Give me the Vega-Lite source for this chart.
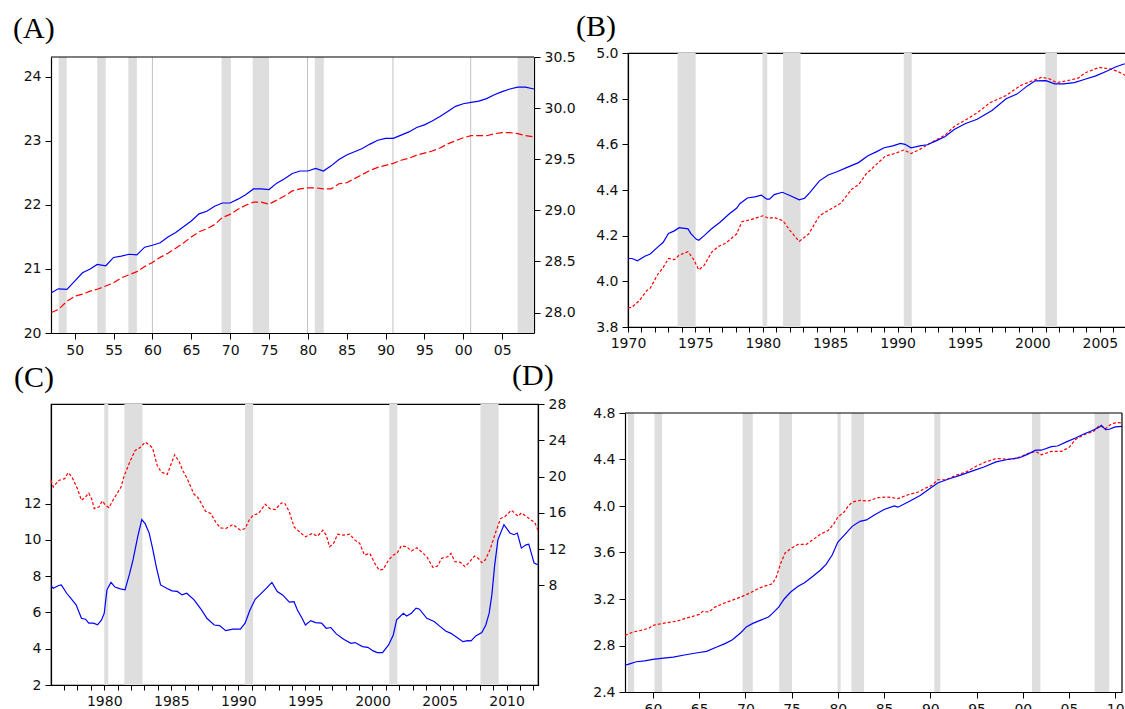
{
"$schema": "https://vega.github.io/schema/vega-lite/v6.json",
"background": "white",
"padding": {"left": 13, "top": 11, "right": 0, "bottom": 0},
"config": {
  "view": {"stroke": "black", "strokeWidth": 1.2},
  "axis": {"labelFont": "DejaVu Sans", "labelFontSize": 14, "labelColor": "#111111", "domainColor": "black", "tickColor": "black", "tickSize": 6, "domainWidth": 1.2, "tickWidth": 1, "grid": false, "title": null, "labelPadding": 4, "labelFlush": false, "labelOverlap": false, "labelBound": false},
  "title": {"font": "Liberation Serif", "fontSize": 30, "fontWeight": "normal", "color": "black", "anchor": "start", "frame": "group"}
},
"datasets": {
  "frame": [{"k": 1}],
  "Abands": [{"t":1947.94,"t2":1948.97},{"t":1952.9,"t2":1954.0},{"t":1956.9,"t2":1958.0},{"t":1968.9,"t2":1970.1},{"t":1972.9,"t2":1975.0},{"t":1980.9,"t2":1982.05},{"t":2007.0,"t2":2009.1}],
  "Alines": [{"t":1960.0},{"t":1979.95},{"t":1990.95},{"t":2000.95}],
  "A1": [{"t":1947,"v":20.63},{"t":1947.9,"v":20.69},{"t":1949,"v":20.68},{"t":1950,"v":20.81},{"t":1951,"v":20.94},{"t":1952,"v":21.0},{"t":1952.9,"v":21.07},{"t":1954,"v":21.05},{"t":1955,"v":21.18},{"t":1956,"v":21.2},{"t":1957,"v":21.23},{"t":1958,"v":21.22},{"t":1959,"v":21.34},{"t":1960,"v":21.37},{"t":1961,"v":21.41},{"t":1962,"v":21.5},{"t":1963,"v":21.57},{"t":1964,"v":21.66},{"t":1965,"v":21.75},{"t":1966,"v":21.86},{"t":1967,"v":21.9},{"t":1968,"v":21.98},{"t":1969,"v":22.03},{"t":1970,"v":22.03},{"t":1971,"v":22.09},{"t":1972,"v":22.16},{"t":1973,"v":22.25},{"t":1974,"v":22.25},{"t":1975,"v":22.24},{"t":1976,"v":22.34},{"t":1977,"v":22.41},{"t":1978,"v":22.49},{"t":1979,"v":22.53},{"t":1980,"v":22.53},{"t":1981,"v":22.57},{"t":1982,"v":22.53},{"t":1983,"v":22.61},{"t":1984,"v":22.71},{"t":1985,"v":22.78},{"t":1986,"v":22.83},{"t":1987,"v":22.88},{"t":1988,"v":22.95},{"t":1989,"v":23.01},{"t":1990,"v":23.04},{"t":1991,"v":23.04},{"t":1992,"v":23.09},{"t":1993,"v":23.14},{"t":1994,"v":23.21},{"t":1995,"v":23.25},{"t":1996,"v":23.31},{"t":1997,"v":23.38},{"t":1998,"v":23.46},{"t":1999,"v":23.54},{"t":2000,"v":23.58},{"t":2001,"v":23.6},{"t":2002,"v":23.62},{"t":2003,"v":23.66},{"t":2004,"v":23.72},{"t":2005,"v":23.77},{"t":2006,"v":23.81},{"t":2007,"v":23.84},{"t":2008,"v":23.84},{"t":2009.1,"v":23.81}],
  "A2": [{"t":1947,"v":28.0},{"t":1947.9,"v":28.03},{"t":1949,"v":28.11},{"t":1950,"v":28.16},{"t":1951,"v":28.18},{"t":1952,"v":28.21},{"t":1953,"v":28.23},{"t":1954,"v":28.26},{"t":1955,"v":28.29},{"t":1956,"v":28.34},{"t":1957,"v":28.37},{"t":1958,"v":28.4},{"t":1959,"v":28.45},{"t":1960,"v":28.49},{"t":1961,"v":28.54},{"t":1962,"v":28.58},{"t":1963,"v":28.63},{"t":1964,"v":28.68},{"t":1965,"v":28.74},{"t":1966,"v":28.79},{"t":1967,"v":28.82},{"t":1968,"v":28.86},{"t":1969,"v":28.93},{"t":1970,"v":28.96},{"t":1971,"v":29.01},{"t":1972,"v":29.05},{"t":1973,"v":29.08},{"t":1974,"v":29.08},{"t":1975,"v":29.06},{"t":1976,"v":29.1},{"t":1977,"v":29.14},{"t":1978,"v":29.19},{"t":1979,"v":29.21},{"t":1980,"v":29.22},{"t":1981,"v":29.22},{"t":1982,"v":29.21},{"t":1983,"v":29.21},{"t":1984,"v":29.26},{"t":1985,"v":29.27},{"t":1986,"v":29.31},{"t":1987,"v":29.35},{"t":1988,"v":29.39},{"t":1989,"v":29.42},{"t":1990,"v":29.44},{"t":1991,"v":29.46},{"t":1992,"v":29.49},{"t":1993,"v":29.51},{"t":1994,"v":29.54},{"t":1995,"v":29.56},{"t":1996,"v":29.58},{"t":1997,"v":29.61},{"t":1998,"v":29.65},{"t":1999,"v":29.68},{"t":2000,"v":29.71},{"t":2001,"v":29.73},{"t":2002,"v":29.73},{"t":2003,"v":29.73},{"t":2004,"v":29.75},{"t":2005,"v":29.76},{"t":2006,"v":29.76},{"t":2007,"v":29.75},{"t":2008,"v":29.73},{"t":2009.1,"v":29.72}],
  "Bbands": [{"t":1973.68,"t2":1975.02},{"t":1979.98,"t2":1980.33},{"t":1981.5,"t2":1982.8},{"t":1990.46,"t2":1991.05},{"t":2000.96,"t2":2001.82}],
  "B1": [{"t":1970,"v":4.1},{"t":1970.3,"v":4.1},{"t":1970.7,"v":4.09},{"t":1971.25,"v":4.11},{"t":1971.65,"v":4.12},{"t":1972.2,"v":4.15},{"t":1972.6,"v":4.17},{"t":1973.0,"v":4.21},{"t":1973.4,"v":4.22},{"t":1973.8,"v":4.235},{"t":1974.45,"v":4.23},{"t":1974.65,"v":4.21},{"t":1975.05,"v":4.185},{"t":1975.25,"v":4.18},{"t":1975.65,"v":4.2},{"t":1976.2,"v":4.23},{"t":1976.85,"v":4.26},{"t":1977.5,"v":4.295},{"t":1978.05,"v":4.32},{"t":1978.3,"v":4.34},{"t":1978.85,"v":4.365},{"t":1979.4,"v":4.37},{"t":1979.9,"v":4.377},{"t":1980.3,"v":4.36},{"t":1980.5,"v":4.36},{"t":1980.85,"v":4.38},{"t":1981.45,"v":4.39},{"t":1982.05,"v":4.375},{"t":1982.7,"v":4.357},{"t":1983.1,"v":4.364},{"t":1983.5,"v":4.39},{"t":1984.2,"v":4.44},{"t":1984.85,"v":4.466},{"t":1985.5,"v":4.48},{"t":1986.3,"v":4.5},{"t":1987.1,"v":4.52},{"t":1987.8,"v":4.55},{"t":1988.45,"v":4.568},{"t":1989.0,"v":4.585},{"t":1989.65,"v":4.593},{"t":1990.2,"v":4.604},{"t":1990.55,"v":4.6},{"t":1991.0,"v":4.585},{"t":1991.65,"v":4.593},{"t":1992.2,"v":4.598},{"t":1992.85,"v":4.615},{"t":1993.5,"v":4.633},{"t":1994.2,"v":4.665},{"t":1995.0,"v":4.69},{"t":1995.9,"v":4.71},{"t":1997.0,"v":4.748},{"t":1998.05,"v":4.8},{"t":1998.85,"v":4.82},{"t":1999.65,"v":4.857},{"t":2000.2,"v":4.878},{"t":2001.0,"v":4.879},{"t":2001.65,"v":4.865},{"t":2002.3,"v":4.865},{"t":2003.1,"v":4.87},{"t":2003.9,"v":4.885},{"t":2004.7,"v":4.9},{"t":2005.5,"v":4.92},{"t":2006.2,"v":4.94},{"t":2006.8,"v":4.952},{"t":2007.4,"v":4.96}],
  "B2": [{"t":1970,"v":3.883},{"t":1970.3,"v":3.887},{"t":1970.85,"v":3.916},{"t":1971.4,"v":3.96},{"t":1971.65,"v":3.97},{"t":1972.2,"v":4.03},{"t":1972.6,"v":4.06},{"t":1973.0,"v":4.1},{"t":1973.45,"v":4.095},{"t":1973.8,"v":4.115},{"t":1974.45,"v":4.13},{"t":1974.85,"v":4.098},{"t":1975.25,"v":4.05},{"t":1975.65,"v":4.07},{"t":1976.2,"v":4.127},{"t":1976.7,"v":4.153},{"t":1977.25,"v":4.167},{"t":1978.05,"v":4.207},{"t":1978.45,"v":4.261},{"t":1979.1,"v":4.27},{"t":1980.0,"v":4.287},{"t":1980.45,"v":4.276},{"t":1980.85,"v":4.28},{"t":1981.5,"v":4.265},{"t":1982.05,"v":4.22},{"t":1982.7,"v":4.175},{"t":1983.4,"v":4.207},{"t":1984.2,"v":4.287},{"t":1984.85,"v":4.31},{"t":1985.8,"v":4.343},{"t":1986.6,"v":4.404},{"t":1987.1,"v":4.423},{"t":1987.65,"v":4.469},{"t":1988.3,"v":4.505},{"t":1989.1,"v":4.549},{"t":1989.8,"v":4.56},{"t":1990.45,"v":4.575},{"t":1991.0,"v":4.56},{"t":1991.65,"v":4.578},{"t":1992.2,"v":4.598},{"t":1992.85,"v":4.619},{"t":1993.5,"v":4.64},{"t":1994.3,"v":4.683},{"t":1995.0,"v":4.705},{"t":1995.9,"v":4.738},{"t":1996.85,"v":4.782},{"t":1998.05,"v":4.814},{"t":1999.1,"v":4.857},{"t":1999.9,"v":4.876},{"t":2000.7,"v":4.894},{"t":2001.25,"v":4.887},{"t":2001.8,"v":4.87},{"t":2002.6,"v":4.879},{"t":2003.4,"v":4.89},{"t":2003.9,"v":4.913},{"t":2004.95,"v":4.937},{"t":2005.8,"v":4.93},{"t":2006.3,"v":4.92},{"t":2006.8,"v":4.905},{"t":2007.4,"v":4.89}],
  "Cbands": [{"t":1980.0,"t2":1980.3},{"t":1981.5,"t2":1982.85},{"t":1990.5,"t2":1991.1},{"t":2001.25,"t2":2001.85},{"t":2008.05,"t2":2009.4}],
  "C1": [{"t":1976.03,"v":7.47},{"t":1976.2,"v":7.34},{"t":1976.6,"v":7.49},{"t":1976.8,"v":7.52},{"t":1977.2,"v":7.06},{"t":1977.5,"v":6.79},{"t":1977.9,"v":6.42},{"t":1978.3,"v":5.68},{"t":1978.6,"v":5.63},{"t":1978.85,"v":5.41},{"t":1979.2,"v":5.41},{"t":1979.5,"v":5.32},{"t":1979.8,"v":5.59},{"t":1980.0,"v":5.96},{"t":1980.2,"v":7.25},{"t":1980.5,"v":7.66},{"t":1980.8,"v":7.4},{"t":1981.2,"v":7.3},{"t":1981.55,"v":7.25},{"t":1981.9,"v":8.17},{"t":1982.15,"v":8.91},{"t":1982.5,"v":10.2},{"t":1982.8,"v":11.12},{"t":1983.05,"v":10.9},{"t":1983.35,"v":10.38},{"t":1983.6,"v":9.55},{"t":1983.9,"v":8.45},{"t":1984.2,"v":7.52},{"t":1984.65,"v":7.34},{"t":1985.05,"v":7.19},{"t":1985.45,"v":7.16},{"t":1985.8,"v":6.97},{"t":1986.15,"v":7.06},{"t":1986.7,"v":6.7},{"t":1987.25,"v":6.14},{"t":1987.65,"v":5.68},{"t":1988.2,"v":5.31},{"t":1988.6,"v":5.28},{"t":1989.05,"v":5.0},{"t":1989.6,"v":5.08},{"t":1990.15,"v":5.08},{"t":1990.5,"v":5.41},{"t":1990.85,"v":6.11},{"t":1991.25,"v":6.73},{"t":1991.65,"v":7.01},{"t":1992.1,"v":7.34},{"t":1992.5,"v":7.66},{"t":1992.9,"v":7.16},{"t":1993.3,"v":6.97},{"t":1993.8,"v":6.57},{"t":1994.15,"v":6.6},{"t":1994.4,"v":6.14},{"t":1994.75,"v":5.68},{"t":1995.0,"v":5.31},{"t":1995.4,"v":5.55},{"t":1995.75,"v":5.44},{"t":1996.2,"v":5.41},{"t":1996.55,"v":5.13},{"t":1996.9,"v":5.17},{"t":1997.3,"v":4.82},{"t":1997.85,"v":4.52},{"t":1998.4,"v":4.3},{"t":1998.7,"v":4.34},{"t":1999.25,"v":4.12},{"t":1999.65,"v":4.08},{"t":2000.05,"v":3.88},{"t":2000.35,"v":3.79},{"t":2000.75,"v":3.79},{"t":2001.2,"v":4.21},{"t":2001.55,"v":4.76},{"t":2001.8,"v":5.59},{"t":2002.3,"v":5.96},{"t":2002.55,"v":5.81},{"t":2002.9,"v":5.96},{"t":2003.25,"v":6.24},{"t":2003.5,"v":6.18},{"t":2004.05,"v":5.68},{"t":2004.6,"v":5.5},{"t":2005.05,"v":5.22},{"t":2005.45,"v":4.98},{"t":2005.85,"v":4.85},{"t":2006.3,"v":4.62},{"t":2006.75,"v":4.39},{"t":2007.1,"v":4.45},{"t":2007.35,"v":4.43},{"t":2007.7,"v":4.71},{"t":2008.15,"v":4.89},{"t":2008.45,"v":5.31},{"t":2008.7,"v":5.96},{"t":2008.9,"v":6.97},{"t":2009.1,"v":8.54},{"t":2009.35,"v":10.01},{"t":2009.8,"v":10.84},{"t":2010.25,"v":10.38},{"t":2010.55,"v":10.29},{"t":2010.8,"v":10.38},{"t":2011.1,"v":9.55},{"t":2011.45,"v":9.73},{"t":2011.65,"v":9.77},{"t":2012.05,"v":8.72},{"t":2012.34,"v":8.63}],
  "C2": [{"t":1976.03,"v":19.57},{"t":1976.2,"v":18.84},{"t":1976.6,"v":19.57},{"t":1977.05,"v":19.76},{"t":1977.3,"v":20.42},{"t":1977.6,"v":19.94},{"t":1978.0,"v":18.66},{"t":1978.3,"v":17.38},{"t":1978.55,"v":17.67},{"t":1978.85,"v":18.18},{"t":1979.1,"v":17.38},{"t":1979.25,"v":16.46},{"t":1979.6,"v":16.64},{"t":1979.85,"v":17.3},{"t":1980.1,"v":16.83},{"t":1980.35,"v":16.57},{"t":1980.65,"v":17.38},{"t":1980.95,"v":18.11},{"t":1981.25,"v":18.84},{"t":1981.5,"v":20.12},{"t":1981.9,"v":21.59},{"t":1982.3,"v":22.87},{"t":1982.65,"v":23.16},{"t":1983.05,"v":23.79},{"t":1983.4,"v":23.42},{"t":1983.6,"v":23.16},{"t":1983.95,"v":21.22},{"t":1984.25,"v":20.49},{"t":1984.7,"v":20.23},{"t":1984.9,"v":21.04},{"t":1985.25,"v":22.4},{"t":1985.6,"v":21.59},{"t":1985.85,"v":20.67},{"t":1986.15,"v":19.87},{"t":1986.4,"v":19.03},{"t":1986.7,"v":18.04},{"t":1986.95,"v":17.74},{"t":1987.25,"v":17.01},{"t":1987.55,"v":16.17},{"t":1987.95,"v":15.91},{"t":1988.3,"v":15.0},{"t":1988.65,"v":14.34},{"t":1989.05,"v":14.26},{"t":1989.6,"v":14.7},{"t":1990.15,"v":14.08},{"t":1990.5,"v":14.26},{"t":1990.8,"v":15.18},{"t":1991.1,"v":15.73},{"t":1991.5,"v":15.91},{"t":1992.0,"v":16.94},{"t":1992.35,"v":16.46},{"t":1992.75,"v":16.35},{"t":1993.2,"v":17.08},{"t":1993.45,"v":17.08},{"t":1993.8,"v":16.1},{"t":1994.15,"v":14.45},{"t":1994.55,"v":13.9},{"t":1995.0,"v":13.35},{"t":1995.5,"v":13.71},{"t":1995.9,"v":13.42},{"t":1996.3,"v":14.08},{"t":1996.55,"v":13.53},{"t":1996.8,"v":12.25},{"t":1997.1,"v":12.62},{"t":1997.4,"v":13.64},{"t":1997.85,"v":13.53},{"t":1998.3,"v":13.64},{"t":1998.7,"v":12.98},{"t":1999.05,"v":12.62},{"t":1999.4,"v":11.33},{"t":1999.8,"v":11.52},{"t":2000.2,"v":10.34},{"t":2000.5,"v":9.68},{"t":2000.8,"v":9.76},{"t":2001.2,"v":10.78},{"t":2001.55,"v":11.33},{"t":2001.85,"v":11.59},{"t":2002.15,"v":12.36},{"t":2002.55,"v":12.25},{"t":2002.9,"v":11.77},{"t":2003.3,"v":12.14},{"t":2003.65,"v":11.7},{"t":2004.05,"v":11.15},{"t":2004.5,"v":9.98},{"t":2004.85,"v":10.12},{"t":2005.15,"v":10.97},{"t":2005.6,"v":11.15},{"t":2005.85,"v":11.52},{"t":2006.15,"v":10.6},{"t":2006.55,"v":10.53},{"t":2006.9,"v":10.05},{"t":2007.25,"v":10.6},{"t":2007.6,"v":11.22},{"t":2007.9,"v":10.97},{"t":2008.15,"v":10.49},{"t":2008.4,"v":10.78},{"t":2008.75,"v":11.88},{"t":2009.15,"v":13.71},{"t":2009.55,"v":15.36},{"t":2009.9,"v":15.62},{"t":2010.35,"v":16.28},{"t":2010.65,"v":15.91},{"t":2010.85,"v":15.62},{"t":2011.1,"v":15.99},{"t":2011.45,"v":15.62},{"t":2011.85,"v":15.18},{"t":2012.1,"v":14.92},{"t":2012.34,"v":14.08}],
  "Dbands": [{"t":1957.3,"t2":1957.97},{"t":1960.17,"t2":1961.0},{"t":1969.7,"t2":1970.8},{"t":1973.66,"t2":1975.04},{"t":1979.96,"t2":1980.3},{"t":1981.47,"t2":1982.84},{"t":1990.43,"t2":1991.08},{"t":2000.99,"t2":2001.9},{"t":2007.76,"t2":2009.35}],
  "D1": [{"t":1956.98,"v":2.63},{"t":1957.4,"v":2.64},{"t":1958.2,"v":2.66},{"t":1959.1,"v":2.667},{"t":1960.0,"v":2.68},{"t":1960.9,"v":2.69},{"t":1962.2,"v":2.7},{"t":1963.4,"v":2.718},{"t":1965.0,"v":2.74},{"t":1965.8,"v":2.75},{"t":1966.9,"v":2.787},{"t":1967.8,"v":2.816},{"t":1968.6,"v":2.85},{"t":1969.5,"v":2.91},{"t":1970.1,"v":2.96},{"t":1970.8,"v":2.99},{"t":1971.6,"v":3.016},{"t":1972.5,"v":3.045},{"t":1972.9,"v":3.074},{"t":1973.6,"v":3.13},{"t":1974.2,"v":3.2},{"t":1974.9,"v":3.26},{"t":1975.7,"v":3.31},{"t":1976.4,"v":3.34},{"t":1977.2,"v":3.39},{"t":1978.1,"v":3.447},{"t":1978.75,"v":3.5},{"t":1979.4,"v":3.58},{"t":1980.0,"v":3.69},{"t":1980.7,"v":3.75},{"t":1981.55,"v":3.825},{"t":1982.4,"v":3.868},{"t":1983.1,"v":3.88},{"t":1983.9,"v":3.92},{"t":1985.0,"v":3.97},{"t":1986.1,"v":4.0},{"t":1986.5,"v":3.99},{"t":1987.6,"v":4.034},{"t":1988.9,"v":4.09},{"t":1989.95,"v":4.15},{"t":1990.8,"v":4.198},{"t":1991.9,"v":4.23},{"t":1993.2,"v":4.264},{"t":1994.5,"v":4.3},{"t":1995.8,"v":4.335},{"t":1997.1,"v":4.38},{"t":1998.35,"v":4.4},{"t":1999.65,"v":4.415},{"t":2000.5,"v":4.444},{"t":2001.4,"v":4.48},{"t":2002.0,"v":4.48},{"t":2003.1,"v":4.51},{"t":2003.75,"v":4.516},{"t":2004.85,"v":4.556},{"t":2005.7,"v":4.585},{"t":2006.55,"v":4.617},{"t":2007.4,"v":4.645},{"t":2008.3,"v":4.68},{"t":2008.5,"v":4.694},{"t":2008.95,"v":4.657},{"t":2009.35,"v":4.66},{"t":2010.0,"v":4.68},{"t":2010.73,"v":4.685}],
  "D2": [{"t":1956.98,"v":2.887},{"t":1957.85,"v":2.916},{"t":1958.7,"v":2.93},{"t":1959.6,"v":2.95},{"t":1960.0,"v":2.973},{"t":1960.9,"v":2.988},{"t":1961.95,"v":3.002},{"t":1962.6,"v":3.01},{"t":1963.65,"v":3.037},{"t":1964.3,"v":3.05},{"t":1965.0,"v":3.068},{"t":1965.4,"v":3.094},{"t":1966.05,"v":3.088},{"t":1966.7,"v":3.13},{"t":1967.75,"v":3.166},{"t":1968.6,"v":3.19},{"t":1969.5,"v":3.217},{"t":1970.55,"v":3.254},{"t":1971.4,"v":3.29},{"t":1972.05,"v":3.31},{"t":1972.9,"v":3.33},{"t":1973.35,"v":3.39},{"t":1973.8,"v":3.504},{"t":1974.3,"v":3.596},{"t":1974.9,"v":3.633},{"t":1975.7,"v":3.67},{"t":1976.6,"v":3.67},{"t":1977.2,"v":3.705},{"t":1978.1,"v":3.756},{"t":1978.95,"v":3.79},{"t":1979.6,"v":3.85},{"t":1980.0,"v":3.905},{"t":1980.7,"v":3.95},{"t":1981.1,"v":3.997},{"t":1981.55,"v":4.034},{"t":1982.4,"v":4.049},{"t":1983.3,"v":4.043},{"t":1984.35,"v":4.072},{"t":1985.45,"v":4.077},{"t":1986.1,"v":4.069},{"t":1986.5,"v":4.063},{"t":1987.6,"v":4.097},{"t":1988.7,"v":4.12},{"t":1989.5,"v":4.155},{"t":1990.2,"v":4.178},{"t":1990.8,"v":4.226},{"t":1991.7,"v":4.226},{"t":1992.75,"v":4.264},{"t":1993.8,"v":4.29},{"t":1994.9,"v":4.34},{"t":1995.95,"v":4.378},{"t":1997.1,"v":4.407},{"t":1997.7,"v":4.407},{"t":1998.8,"v":4.4},{"t":1999.65,"v":4.42},{"t":2000.5,"v":4.45},{"t":2001.4,"v":4.47},{"t":2002.0,"v":4.44},{"t":2003.1,"v":4.47},{"t":2004.2,"v":4.47},{"t":2005.05,"v":4.507},{"t":2005.7,"v":4.573},{"t":2006.75,"v":4.617},{"t":2007.65,"v":4.642},{"t":2008.3,"v":4.694},{"t":2008.95,"v":4.665},{"t":2009.6,"v":4.708},{"t":2010.2,"v":4.717},{"t":2010.73,"v":4.714}]
},
"spacing": 4,
"vconcat": [
 {"spacing": -1, "hconcat": [
  {"width": 483, "height": 280,
   "view": {"stroke": null},
   "title": {"text": "(A)", "dx": -38, "offset": 6},
   "layer": [
     {"layer": [
       {"data": {"name": "Abands"}, "mark": {"type": "rect", "color": "#dedede"}, "encoding": {
         "x": {"field": "t", "type": "quantitative", "scale": {"domain": [1946.95, 2009.1], "nice": false, "zero": false}, "axis": {"values": [1950,1955,1960,1965,1970,1975,1980,1985,1990,1995,2000,2005], "labelExpr": "format(datum.value % 100, '02d')"}},
         "x2": {"field": "t2"},
         "y": {"datum": 20, "type": "quantitative", "scale": {"domain": [20, 24.31], "range": [280, 4], "nice": false, "zero": false}, "axis": {"orient": "left", "values": [20, 21, 22, 23, 24]}},
         "y2": {"datum": 24.31}}},
       {"data": {"name": "Alines"}, "mark": {"type": "rule", "color": "#c2c2c2", "strokeWidth": 1}, "encoding": {
         "x": {"field": "t", "type": "quantitative", "scale": {"domain": [1946.95, 2009.1], "nice": false, "zero": false}, "axis": {"values": [1950,1955,1960,1965,1970,1975,1980,1985,1990,1995,2000,2005], "labelExpr": "format(datum.value % 100, '02d')"}},
         "y": {"datum": 20, "type": "quantitative", "scale": {"domain": [20, 24.31], "range": [280, 4], "nice": false, "zero": false}, "axis": {"orient": "left", "values": [20, 21, 22, 23, 24]}},
         "y2": {"datum": 24.31}}},
       {"data": {"name": "frame"}, "mark": {"type": "rule", "color": "black", "strokeWidth": 1.2}, "encoding": {
         "y": {"datum": 24.31, "type": "quantitative", "scale": {"domain": [20, 24.31], "range": [280, 4], "nice": false, "zero": false}, "axis": {"orient": "left", "values": [20, 21, 22, 23, 24]}}}},
       {"data": {"name": "A1"}, "mark": {"type": "line", "color": "#0000ff", "strokeWidth": 1.2}, "encoding": {
         "x": {"field": "t", "type": "quantitative", "scale": {"domain": [1946.95, 2009.1], "nice": false, "zero": false}, "axis": {"values": [1950,1955,1960,1965,1970,1975,1980,1985,1990,1995,2000,2005], "labelExpr": "format(datum.value % 100, '02d')"}},
         "y": {"field": "v", "type": "quantitative", "scale": {"domain": [20, 24.31], "range": [280, 4], "nice": false, "zero": false}, "axis": {"orient": "left", "values": [20, 21, 22, 23, 24]}}}}
     ]},
     {"data": {"name": "A2"}, "mark": {"type": "line", "color": "#ff0000", "strokeWidth": 1.2, "strokeDash": [7, 3]}, "encoding": {
       "x": {"field": "t", "type": "quantitative", "scale": {"domain": [1946.95, 2009.1], "nice": false, "zero": false}, "axis": {"values": [1950,1955,1960,1965,1970,1975,1980,1985,1990,1995,2000,2005], "labelExpr": "format(datum.value % 100, '02d')"}},
       "y": {"field": "v", "type": "quantitative", "scale": {"domain": [27.8, 30.5], "range": [280, 4], "nice": false, "zero": false}, "axis": {"orient": "right", "values": [28, 28.5, 29, 29.5, 30, 30.5], "format": ".1f"}}}}
   ],
   "resolve": {"scale": {"y": "independent"}}
  },
  {"width": 505, "height": 274,
   "title": {"text": "(B)", "dx": -52, "offset": 4},
   "encoding": {"x": {"field": "t", "type": "quantitative", "scale": {"domain": [1970, 2007.46], "nice": false, "zero": false}, "axis": {"values": [1970,1971,1972,1973,1974,1975,1976,1977,1978,1979,1980,1981,1982,1983,1984,1985,1986,1987,1988,1989,1990,1991,1992,1993,1994,1995,1996,1997,1998,1999,2000,2001,2002,2003,2004,2005,2006,2007], "labelExpr": "datum.value % 5 == 0 ? format(datum.value, 'd') : ''", "tickSize": 5}}},
   "layer": [
     {"data": {"name": "Bbands"}, "mark": {"type": "rect", "color": "#dedede"}, "encoding": {"x2": {"field": "t2"}}},
     {"data": {"name": "B2"}, "mark": {"type": "line", "color": "#ff0000", "strokeWidth": 1.2, "strokeDash": [3, 2]}, "encoding": {"y": {"field": "v", "type": "quantitative", "scale": {"domain": [3.8, 5.0], "nice": false, "zero": false}, "axis": {"values": [3.8, 4.0, 4.2, 4.4, 4.6, 4.8, 5.0], "format": ".1f"}}}},
     {"data": {"name": "B1"}, "mark": {"type": "line", "color": "#0000ff", "strokeWidth": 1.2}, "encoding": {"y": {"field": "v", "type": "quantitative", "scale": {"domain": [3.8, 5.0], "nice": false, "zero": false}, "axis": {"values": [3.8, 4.0, 4.2, 4.4, 4.6, 4.8, 5.0], "format": ".1f"}}}}
   ]
  }
 ]},
 {"spacing": -55, "hconcat": [
  {"width": 487, "height": 281,
   "title": {"text": "(C)", "dx": -37, "offset": 4},
   "encoding": {"x": {"field": "t", "type": "quantitative", "scale": {"domain": [1976.03, 2012.34], "nice": false, "zero": false}, "axis": {"values": [1976,1977,1978,1979,1980,1981,1982,1983,1984,1985,1986,1987,1988,1989,1990,1991,1992,1993,1994,1995,1996,1997,1998,1999,2000,2001,2002,2003,2004,2005,2006,2007,2008,2009,2010,2011,2012], "labelExpr": "datum.value % 5 == 0 ? format(datum.value, 'd') : ''", "tickSize": 5}}},
   "layer": [
     {"data": {"name": "Cbands"}, "mark": {"type": "rect", "color": "#dedede"}, "encoding": {"x2": {"field": "t2"}}},
     {"data": {"name": "C2"}, "mark": {"type": "line", "color": "#ff0000", "strokeWidth": 1.2, "strokeDash": [3, 2]}, "encoding": {"y": {"field": "v", "type": "quantitative", "scale": {"domain": [-3, 28], "nice": false, "zero": false}, "axis": {"orient": "right", "values": [8, 12, 16, 20, 24, 28]}}}},
     {"data": {"name": "C1"}, "mark": {"type": "line", "color": "#0000ff", "strokeWidth": 1.2}, "encoding": {"y": {"field": "v", "type": "quantitative", "scale": {"domain": [2, 17.5], "nice": false, "zero": false}, "axis": {"orient": "left", "values": [2, 4, 6, 8, 10, 12]}}}}
   ],
   "resolve": {"scale": {"y": "independent"}}
  },
  {"width": 497, "height": 288,
   "view": {"stroke": null},
   "title": {"text": "(D)", "dx": -113, "offset": 13},
   "layer": [
     {"data": {"name": "Dbands"}, "mark": {"type": "rect", "color": "#dedede"}, "encoding": {
       "x": {"field": "t", "type": "quantitative", "scale": {"domain": [1956.98, 2010.73], "nice": false, "zero": false}, "axis": {"values": [1960,1965,1970,1975,1980,1985,1990,1995,2000,2005,2010], "labelExpr": "format(datum.value % 100, '02d')"}},
       "x2": {"field": "t2"},
       "y": {"datum": 2.4, "type": "quantitative", "scale": {"domain": [2.4, 4.8], "range": [288, 9], "nice": false, "zero": false}, "axis": {"values": [2.4, 2.8, 3.2, 3.6, 4.0, 4.4, 4.8], "format": ".1f"}},
       "y2": {"datum": 4.8}}},
     {"data": {"name": "D2"}, "mark": {"type": "line", "color": "#ff0000", "strokeWidth": 1.2, "strokeDash": [3, 2]}, "encoding": {
       "x": {"field": "t", "type": "quantitative", "scale": {"domain": [1956.98, 2010.73], "nice": false, "zero": false}, "axis": {"values": [1960,1965,1970,1975,1980,1985,1990,1995,2000,2005,2010], "labelExpr": "format(datum.value % 100, '02d')"}},
       "y": {"field": "v", "type": "quantitative", "scale": {"domain": [2.4, 4.8], "range": [288, 9], "nice": false, "zero": false}, "axis": {"values": [2.4, 2.8, 3.2, 3.6, 4.0, 4.4, 4.8], "format": ".1f"}}}},
     {"data": {"name": "D1"}, "mark": {"type": "line", "color": "#0000ff", "strokeWidth": 1.2}, "encoding": {
       "x": {"field": "t", "type": "quantitative", "scale": {"domain": [1956.98, 2010.73], "nice": false, "zero": false}, "axis": {"values": [1960,1965,1970,1975,1980,1985,1990,1995,2000,2005,2010], "labelExpr": "format(datum.value % 100, '02d')"}},
       "y": {"field": "v", "type": "quantitative", "scale": {"domain": [2.4, 4.8], "range": [288, 9], "nice": false, "zero": false}, "axis": {"values": [2.4, 2.8, 3.2, 3.6, 4.0, 4.4, 4.8], "format": ".1f"}}}},
     {"data": {"name": "frame"}, "mark": {"type": "rule", "color": "black", "strokeWidth": 1.2}, "encoding": {
       "y": {"datum": 4.8, "type": "quantitative", "scale": {"domain": [2.4, 4.8], "range": [288, 9], "nice": false, "zero": false}, "axis": {"values": [2.4, 2.8, 3.2, 3.6, 4.0, 4.4, 4.8], "format": ".1f"}}}},
     {"data": {"name": "frame"}, "mark": {"type": "rule", "color": "black", "strokeWidth": 1.2}, "encoding": {
       "x": {"datum": 2010.73, "type": "quantitative", "scale": {"domain": [1956.98, 2010.73], "nice": false, "zero": false}, "axis": {"values": [1960,1965,1970,1975,1980,1985,1990,1995,2000,2005,2010], "labelExpr": "format(datum.value % 100, '02d')"}},
       "y": {"datum": 2.4, "type": "quantitative", "scale": {"domain": [2.4, 4.8], "range": [288, 9], "nice": false, "zero": false}, "axis": {"values": [2.4, 2.8, 3.2, 3.6, 4.0, 4.4, 4.8], "format": ".1f"}},
       "y2": {"datum": 4.8}}}
   ]
  }
 ]}
]
}
